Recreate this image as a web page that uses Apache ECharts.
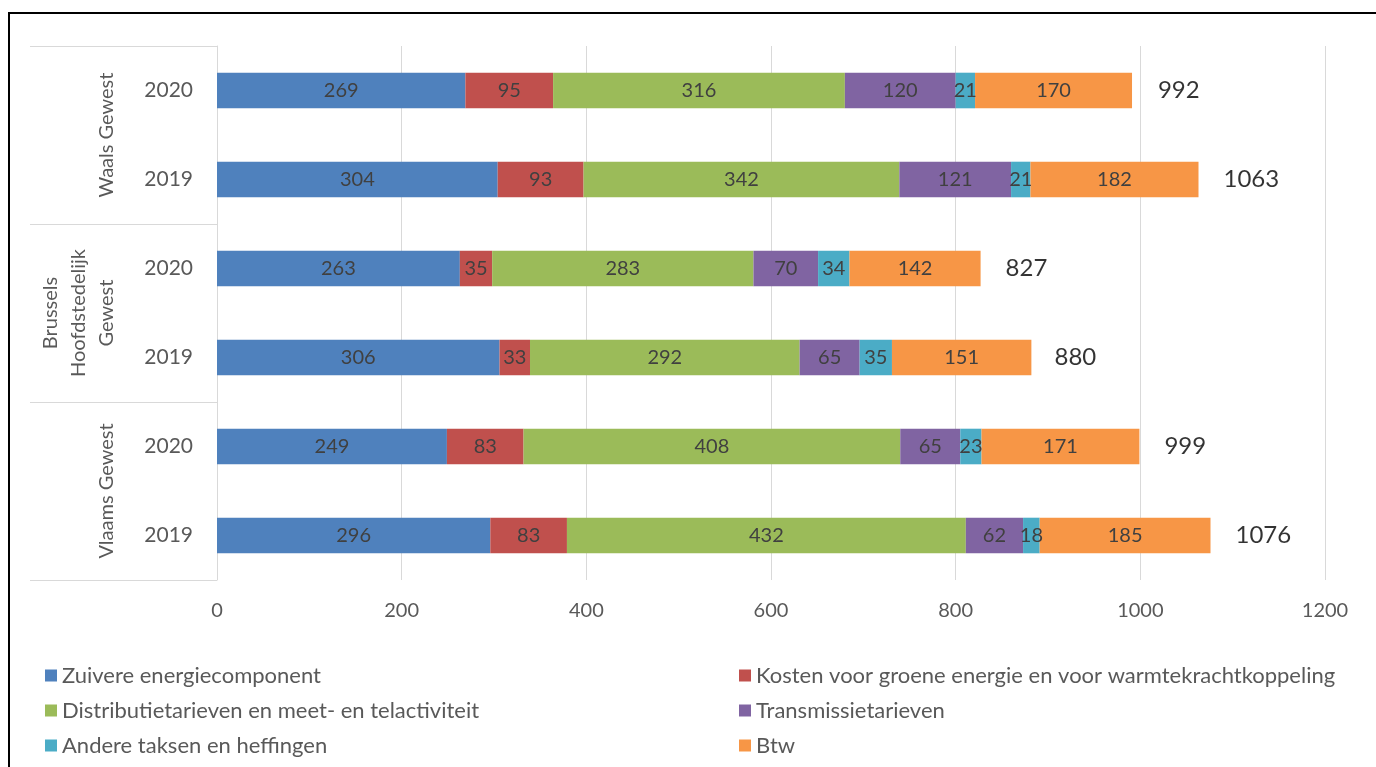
<!DOCTYPE html>
<html>
<head>
<meta charset="utf-8">
<script src="https://cdn.jsdelivr.net/npm/echarts@6/dist/echarts.min.js"></script>
<style>html,body{margin:0;padding:0;background:#fff;}#c{width:1376px;height:767px;}</style>
</head>
<body>
<div id="c"></div>
<script>
// top-to-bottom order
const years = ['2020', '2019', '2020', '2019', '2020', '2019'];
const regions = ['Waals Gewest', 'Brussels\nHoofdstedelijk\nGewest', 'Vlaams Gewest'];
const seriesNames = [
  'Zuivere energiecomponent',
  'Kosten voor groene energie en voor warmtekrachtkoppeling',
  'Distributietarieven en meet- en telactiviteit',
  'Transmissietarieven',
  'Andere taksen en heffingen',
  'Btw'
];
const zuivere = [269, 304, 263, 306, 249, 296];
const kosten = [95, 93, 35, 33, 83, 83];
const distributie = [316, 342, 283, 292, 408, 432];
const transmissie = [120, 121, 70, 65, 65, 62];
const andere = [21, 21, 34, 35, 23, 18];
const btw = [170, 182, 142, 151, 171, 185];
const totals = [992, 1063, 827, 880, 999, 1076];
const xTicks = [0, 200, 400, 600, 800, 1000, 1200];

const colors = ['#4F81BD', '#C0504D', '#9BBB59', '#8064A2', '#4BACC6', '#F79646'];
const values = [zuivere, kosten, distributie, transmissie, andere, btw];
const FONT = 'Lato, "Open Sans", sans-serif';

const chart = echarts.init(document.getElementById('c'), null, {renderer: 'canvas'});

const barSeries = values.map((v, i) => ({
  name: seriesNames[i],
  type: 'bar',
  stack: 'total',
  barWidth: '40%',
  yAxisIndex: 0,
  itemStyle: {color: colors[i]},
  label: {
    show: true,
    position: 'inside',
    color: '#404040',
    fontFamily: FONT,
    fontSize: 20
  },
  data: v
}));

const totalSeries = {
  name: 'Totaal',
  type: 'scatter',
  yAxisIndex: 0,
  symbolSize: 0,
  silent: true,
  label: {
    show: true,
    position: 'right',
    distance: 25,
    color: '#000',
    fontFamily: FONT,
    fontSize: 24
  },
  data: totals.map((t, i) => [t, i])
};

chart.setOption({
  animation: false,
  backgroundColor: '#fff',
  grid: {left: 217, right: 51, top: 46, bottom: 187, containLabel: false},
  xAxis: {
    type: 'value',
    min: xTicks[0],
    max: xTicks[xTicks.length - 1],
    interval: 200,
    axisLine: {show: false},
    axisTick: {show: false},
    splitLine: {show: true, lineStyle: {color: '#d9d9d9', width: 1}},
    axisLabel: {color: '#595959', fontFamily: FONT, fontSize: 20, margin: 21, formatter: v => String(v)}
  },
  yAxis: [
    {
      type: 'category',
      data: years,
      inverse: true,
      axisLine: {show: true, lineStyle: {color: '#d9d9d9'}},
      axisTick: {show: false},
      axisLabel: {color: '#595959', fontFamily: FONT, fontSize: 21, margin: 24}
    },
    {
      type: 'category',
      data: regions,
      inverse: true,
      position: 'left',
      axisLine: {show: false},
      axisTick: {show: true, length: 187, lineStyle: {color: '#d9d9d9'}},
      axisLabel: {
        rotate: 90,
        color: '#595959',
        fontFamily: FONT,
        fontSize: 20,
        lineHeight: 28,
        margin: 96
      }
    }
  ],
  legend: [
    {
      orient: 'vertical',
      left: 40,
      top: 659,
      itemWidth: 12,
      itemHeight: 12,
      itemGap: 12,
      icon: 'rect',
      data: [seriesNames[0], seriesNames[2], seriesNames[4]],
      textStyle: {color: '#595959', fontFamily: FONT, fontSize: 22, lineHeight: 23}
    },
    {
      orient: 'vertical',
      left: 734,
      top: 659,
      itemWidth: 12,
      itemHeight: 12,
      itemGap: 12,
      icon: 'rect',
      data: [seriesNames[1], seriesNames[3], seriesNames[5]],
      textStyle: {color: '#595959', fontFamily: FONT, fontSize: 22, lineHeight: 23}
    }
  ],
  graphic: [
    {
      type: 'rect',
      shape: {x: 9, y: 13, width: 1400, height: 800},
      style: {fill: 'none', stroke: '#000', lineWidth: 2},
      silent: true,
      z: 100
    }
  ],
  series: barSeries.concat([totalSeries])
});
</script>
</body>
</html>
